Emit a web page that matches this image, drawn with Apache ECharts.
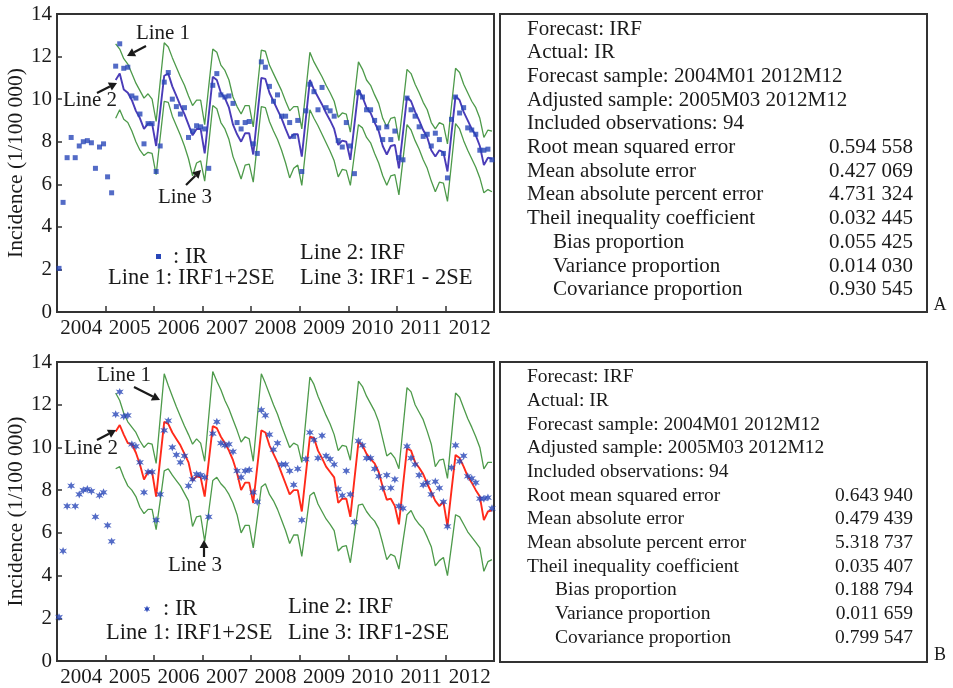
<!DOCTYPE html>
<html>
<head>
<meta charset="utf-8">
<script src="https://cdn.jsdelivr.net/npm/echarts@6/dist/echarts.min.js"></script>
<style>
  html, body { margin: 0; padding: 0; background: #fff; }
  #chart { width: 953px; height: 688px; }
</style>
</head>
<body>
<div id="chart"></div>
<script>
// monthly incidence, 2004M01 .. 2012M12 (108 months)
const actualIR = [
  2.05, 5.15, 7.25, 8.2, 7.25, 7.8, 8.0, 8.05, 7.95, 6.75, 7.75, 7.9,
  6.35, 5.6, 11.55, 12.6, 11.45, 11.5, 10.15, 10.05, 9.3, 7.9, 8.85, 8.85,
  6.6, 7.8, 10.8, 11.25, 10.0, 9.65, 9.3, 9.6, 8.2, 8.5, 8.75, 8.7,
  8.6, 6.75, 10.65, 11.2, 10.2, 10.1, 10.15, 9.8, 8.9, 8.6, 8.9, 8.95,
  7.9, 7.45, 11.75, 11.5, 10.6, 9.9, 10.2, 9.2, 9.2, 8.9, 8.25, 9.0,
  6.6, 9.45, 10.7, 10.35, 9.5, 10.55, 9.6, 9.45, 9.2, 8.05, 7.75, 8.9,
  7.8, 6.5, 10.3, 10.1, 9.5, 9.5, 9.0, 8.65, 8.1, 8.7, 8.1, 8.5,
  7.25, 7.15, 10.05, 9.5, 9.2, 8.7, 8.25, 8.35, 7.8, 8.4, 8.1, 7.45,
  6.3, 9.05, 10.1, 9.35, 9.6, 8.65, 8.55, 8.35, 7.6, 7.6, 7.65, 7.15
];

// forecasts start at 2005M03 (month index 14), 94 values each
const forecastStart = 14;

// panel A
const irfA = [
  10.9, 11.2, 10.45, 10.3, 9.95, 9.45, 9.1, 8.6, 8.85, 8.85, 7.8, 9.45,
  11.1, 11.2, 10.6, 10.15, 9.7, 9.3, 8.8, 8.3, 8.6, 8.6, 7.45, 9.25,
  11.05, 10.9, 10.3, 10.05, 9.6, 8.8, 8.35, 8.0, 8.4, 8.4, 7.4, 9.2,
  11.0, 10.95, 10.3, 9.9, 9.5, 9.1, 8.6, 8.15, 8.35, 8.35, 7.3, 9.1,
  10.9, 10.45, 10.1, 9.75, 9.35, 9.0, 8.6, 7.85, 8.05, 8.0, 7.15, 8.8,
  10.45, 10.1, 9.6, 9.35, 8.9, 8.5, 7.8, 7.4, 7.8, 7.85, 6.75, 8.4,
  10.1, 9.9, 9.4, 9.0, 8.55, 8.2, 7.6, 7.3, 7.6, 7.5, 6.6, 8.4,
  10.15, 9.95, 9.4, 9.0, 8.6, 8.3, 7.8, 6.9, 7.25, 7.2
];
const upperA = [
  12.6, 12.35, 11.9, 11.65, 11.2, 10.75, 10.4, 10.05, 10.25, 10.0, 8.95, 10.8,
  12.65, 12.45, 11.95, 11.5, 11.05, 10.65, 10.15, 9.7, 9.95, 9.95, 8.8, 10.6,
  12.35, 12.2, 11.6, 11.35, 10.9, 10.1, 9.65, 9.3, 9.7, 9.7, 8.7, 10.5,
  12.3, 12.25, 11.6, 11.2, 10.8, 10.4, 9.9, 9.45, 9.65, 9.65, 8.6, 10.4,
  12.2, 11.75, 11.4, 11.05, 10.65, 10.3, 9.9, 9.15, 9.35, 9.3, 8.45, 10.1,
  11.75, 11.4, 10.9, 10.65, 10.2, 9.8, 9.1, 8.7, 9.1, 9.15, 8.05, 9.7,
  11.4, 11.2, 10.7, 10.3, 9.85, 9.5, 8.9, 8.6, 8.9, 8.8, 7.9, 9.7,
  11.45, 11.25, 10.7, 10.3, 9.9, 9.6, 9.1, 8.2, 8.55, 8.5
];
const lowerA = [
  9.1, 9.5, 9.05, 8.9, 8.5, 8.0, 7.6, 7.35, 7.5, 7.45, 6.45, 8.2,
  9.9, 9.85, 9.2, 8.75, 8.3, 7.8, 7.2, 6.4, 7.0, 7.1, 6.15, 7.9,
  9.7, 9.55, 8.9, 8.6, 8.1, 7.3, 6.8, 6.25, 6.9, 6.95, 6.1, 7.9,
  9.65, 9.6, 8.95, 8.5, 8.1, 7.6, 7.0, 6.3, 6.75, 6.9, 5.95, 7.7,
  9.5, 9.1, 8.75, 8.35, 7.95, 7.55, 7.1, 6.35, 6.7, 6.65, 5.95, 7.4,
  8.8, 8.65, 8.2, 7.95, 7.45, 7.0, 6.4, 5.95, 6.4, 6.45, 5.5, 7.15,
  8.8, 8.55, 8.05, 7.65, 7.15, 6.75, 6.15, 5.65, 6.1, 6.05, 5.2, 7.0,
  8.85, 8.6, 8.05, 7.6, 7.2, 6.8, 6.3, 5.6, 5.75, 5.65
];

// panel B
const irfB = [
  10.75, 11.05, 10.6, 10.2, 10.15, 9.75, 9.2, 8.5, 8.85, 8.85, 7.7, 9.45,
  11.2, 11.1, 10.7, 10.4, 10.1, 9.7, 9.3, 8.45, 8.65, 8.6, 7.7, 9.35,
  11.0, 10.9, 10.5, 10.2, 9.85, 9.4, 8.8, 8.0, 8.35, 8.35, 7.4, 9.1,
  10.8, 10.7, 10.1, 9.7, 9.3, 8.8, 8.3, 7.8, 8.0, 8.0, 7.0, 8.75,
  10.5, 10.45, 9.85, 9.5, 9.1, 8.85, 8.6, 7.4, 7.6, 7.6, 6.75, 8.5,
  10.25, 10.1, 9.7, 9.45, 9.25, 8.85, 8.15, 7.55, 7.6, 7.25, 6.4, 8.2,
  9.95, 9.85, 9.3, 9.05, 8.75, 8.3, 7.9, 7.5, 7.25, 7.45, 6.3, 8.0,
  9.65, 9.5, 9.1, 8.65, 8.35, 8.0, 7.7, 6.6, 7.0, 7.05
];
const upperB = [
  12.55, 12.2, 11.6, 11.2, 10.95, 10.7, 10.3, 10.0, 10.2, 10.15, 9.25, 11.35,
  13.45, 12.9, 12.4, 11.9, 11.45, 11.0, 10.6, 10.15, 10.4, 10.2, 9.35, 11.45,
  13.55, 13.1, 12.7, 12.2, 11.8, 11.3, 10.8, 10.25, 10.5, 10.4, 9.35, 11.4,
  13.45, 13.0, 12.5, 12.0, 11.55, 11.0, 10.5, 10.0, 10.2, 10.1, 9.3, 11.3,
  13.3, 12.95, 12.4, 11.95, 11.5, 11.1, 10.6, 9.85, 10.1, 10.05, 9.4, 11.25,
  13.1, 12.85, 12.4, 12.05, 11.7, 11.2, 10.4, 9.6, 9.75, 9.5, 9.0, 10.9,
  12.8, 12.6, 12.0, 11.65, 11.3, 10.75, 10.15, 9.1, 9.4, 9.45, 8.55, 10.55,
  12.55, 12.35, 11.85, 11.35, 10.95, 10.5, 10.0, 9.0, 9.3, 9.3
];
const lowerB = [
  9.0, 9.1, 8.6, 8.2, 8.0, 7.7, 7.2, 6.9, 7.1, 7.1, 6.15, 7.5,
  8.9, 9.0, 8.7, 8.45, 8.2, 7.85, 7.5, 6.3, 6.75, 6.8, 5.6, 7.0,
  8.45, 8.6, 8.3, 8.1, 7.8, 7.4, 6.85, 6.0, 6.35, 6.35, 5.3, 6.7,
  8.15, 8.3, 7.8, 7.5, 7.1, 6.6, 6.1, 5.5, 5.9, 5.9, 4.9, 6.3,
  7.75, 7.9, 7.35, 7.0, 6.65, 6.4, 6.1, 5.15, 5.35, 5.4, 4.6, 5.95,
  7.3, 7.35, 7.0, 6.75, 6.55, 6.2, 5.5, 4.75, 5.0, 4.9, 4.3, 5.6,
  6.85, 7.05, 6.65, 6.4, 6.2, 5.8, 5.35, 4.45, 4.7, 4.85, 4.0, 5.4,
  6.85, 6.75, 6.4, 6.05, 5.8, 5.55, 5.3, 4.2, 4.65, 4.75
];

const years = ['2004', '2005', '2006', '2007', '2008', '2009', '2010', '2011', '2012'];

const statLabels = [
  'Forecast: IRF', 'Actual: IR', 'Forecast sample: 2004M01 2012M12',
  'Adjusted sample: 2005M03 2012M12', 'Included observations: 94',
  'Root mean squared error', 'Mean absolute error', 'Mean absolute percent error',
  'Theil inequality coefficient', 'Bias proportion', 'Variance proportion',
  'Covariance proportion'
];
const statsA = ['', '', '', '', '', '0.594 558', '0.427 069', '4.731 324', '0.032 445', '0.055 425', '0.014 030', '0.930 545'];
const statsB = ['', '', '', '', '', '0.643 940', '0.479 439', '5.318 737', '0.035 407', '0.188 794', '0.011 659', '0.799 547'];

const FONT = '"Liberation Serif", "Times New Roman", serif';
const GREEN = '#4d9a4a';
const DOT = '#2846b8';
const INK = '#1a1a1a';

const chart = echarts.init(document.getElementById('chart'));

// month index -> x value at the middle of that month
const pts = (vals, start) => vals.map((v, k) => [start + k + 0.5, v]);

function xAxes(g) {
  return [
    {
      gridIndex: g, type: 'value', min: 0, max: 108, interval: 12,
      axisLine: { lineStyle: { color: '#333', width: 2 } },
      axisTick: { inside: true, length: 6, lineStyle: { color: '#333', width: 1.5 } },
      axisLabel: { show: false },
      splitLine: { show: false }
    },
    {
      gridIndex: g, type: 'value', min: 0, max: 108, interval: 6, position: 'bottom',
      axisLine: { show: false },
      axisTick: { show: false },
      splitLine: { show: false },
      axisLabel: {
        margin: 6, fontSize: 21, fontFamily: FONT, color: INK,
        formatter: v => (v % 12 === 6 ? years[(v - 6) / 12] : '')
      }
    }
  ];
}

function yAxis(g) {
  return {
    gridIndex: g, type: 'value', min: 0, max: 14, interval: 2,
    name: 'Incidence (1/100 000)', nameLocation: 'middle', nameGap: 29,
    nameTextStyle: { fontSize: 21.5, fontFamily: FONT, color: INK },
    axisLine: { show: true, lineStyle: { color: '#333', width: 2 } },
    axisTick: { inside: true, length: 5, lineStyle: { color: '#333', width: 1.5 } },
    axisLabel: { fontSize: 21, fontFamily: FONT, color: INK, margin: 5 },
    splitLine: { show: false }
  };
}

function panelSeries(xi, yi, irf, up, lo, irfColor, symbol, symbolSize) {
  const band = (data) => ({
    type: 'line', xAxisIndex: xi, yAxisIndex: yi, data, symbol: 'none',
    lineStyle: { color: GREEN, width: 1.3 }, z: 2, silent: true
  });
  return [
    band(pts(up, forecastStart)),
    band(pts(lo, forecastStart)),
    {
      type: 'line', xAxisIndex: xi, yAxisIndex: yi, data: pts(irf, forecastStart),
      symbol: 'none', lineStyle: { color: irfColor, width: 1.9 }, z: 3
    },
    {
      type: 'scatter', xAxisIndex: xi, yAxisIndex: yi, data: pts(actualIR, 0),
      symbol, symbolSize, itemStyle: { color: DOT }, z: 4
    }
  ];
}

const STAR = 'path://M0,-10L2.5,-4L9,-6L4.5,0L9,6L2.5,4L0,10L-2.5,4L-9,6L-4.5,0L-9,-6L-2.5,-4Z';

function text(str, x, y, size, align) {
  return {
    type: 'text', x, y, z: 10,
    style: { text: str, font: size + 'px ' + FONT, fill: INK, textAlign: align || 'left', textVerticalAlign: 'middle' }
  };
}

function arrow(x1, y1, x2, y2) {
  const a = Math.atan2(y2 - y1, x2 - x1), L = 8, W = 4.5;
  const bx = x2 - L * Math.cos(a), by = y2 - L * Math.sin(a);
  return [
    { type: 'line', z: 10, shape: { x1, y1, x2: bx, y2: by }, style: { stroke: INK, lineWidth: 2.2 } },
    {
      type: 'polygon', z: 10,
      shape: { points: [[x2, y2], [bx + W * Math.sin(a), by - W * Math.cos(a)], [bx - W * Math.sin(a), by + W * Math.cos(a)]] },
      style: { fill: INK }
    }
  ];
}

function statBox(top, h, values, size, x0, indent) {
  const out = [{ type: 'rect', z: 1, shape: { x: 500, y: top, width: 427, height: h }, style: { fill: 'none', stroke: '#333', lineWidth: 2 } }];
  statLabels.forEach((lab, k) => {
    const y = top + 15 + k * 23.7;
    out.push(text(lab, k >= 9 ? indent : x0, y, size));
    if (values[k]) out.push(text(values[k], 913, y, size, 'right'));
  });
  return out;
}

// small star used as the legend key in panel B
const starPts = [[0, -3.5], [0.9, -1.3], [3, -2], [1.6, 0], [3, 2], [0.9, 1.3], [0, 3.5], [-0.9, 1.3], [-3, 2], [-1.6, 0], [-3, -2], [-0.9, -1.3]];

const graphics = [].concat(
  statBox(14, 298, statsA, 21, 527, 553),
  statBox(362, 300, statsB, 19.5, 527, 555),
  [text('A', 940, 305, 18, 'center'), text('B', 940, 655, 18, 'center')],
  // panel A notes
  [text('Line 1', 163, 33, 21, 'center'), text('Line 2', 90, 100, 21, 'center'), text('Line 3', 185, 197, 21, 'center')],
  arrow(146, 46, 127, 56), arrow(97, 93, 117, 83), arrow(186, 185, 201, 170),
  [{ type: 'rect', z: 10, shape: { x: 156, y: 254, width: 5, height: 5 }, style: { fill: DOT } }],
  [text(': IR', 173, 257, 22.5), text('Line 2: IRF', 300, 253, 22.5),
   text('Line 1: IRF1+2SE', 108, 278, 22.5), text('Line 3: IRF1 - 2SE', 300, 278, 22.5)],
  // panel B notes
  [text('Line 1', 124, 375, 21, 'center'), text('Line 2', 91, 448, 21, 'center'), text('Line 3', 195, 565, 21, 'center')],
  arrow(134, 387, 160, 400), arrow(97, 440, 116, 430), arrow(204, 557, 204, 540),
  [{ type: 'polygon', z: 10, x: 147, y: 609, shape: { points: starPts }, style: { fill: DOT } }],
  [text(': IR', 163, 609, 22.5), text('Line 2: IRF', 288, 607, 22.5),
   text('Line 1: IRF1+2SE', 106, 633, 22.5), text('Line 3: IRF1-2SE', 288, 633, 22.5)]
);

chart.setOption({
  animation: false,
  backgroundColor: '#fff',
  grid: [
    { left: 57, top: 14, width: 437, height: 298, show: true, borderColor: '#333', borderWidth: 2, backgroundColor: 'transparent' },
    { left: 57, top: 362, width: 437, height: 300, show: true, borderColor: '#333', borderWidth: 2, backgroundColor: 'transparent' }
  ],
  xAxis: [].concat(xAxes(0), xAxes(1)),
  yAxis: [yAxis(0), yAxis(1)],
  series: [].concat(
    panelSeries(0, 0, irfA, upperA, lowerA, '#4a3cb8', 'rect', 5),
    panelSeries(2, 1, irfB, upperB, lowerB, '#ff2a1a', STAR, 8)
  ),
  graphic: graphics
});
</script>
</body>
</html>
